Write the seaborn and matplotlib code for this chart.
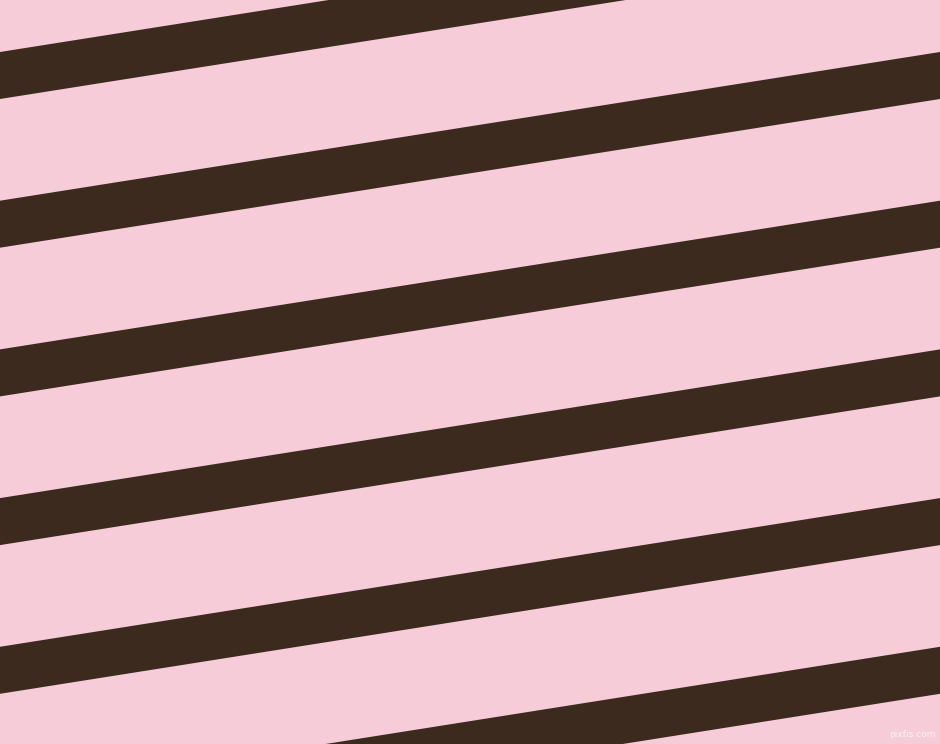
import matplotlib
matplotlib.use("Agg")
import matplotlib.pyplot as plt
import seaborn as sns
import numpy as np

# stripe top edges where they meet the left border (px from top)
stripe_tops = [-96.7, 52.0, 200.7, 349.4, 498.1, 646.8, 795.5]
stripe_thickness = 47.0
drop_across = 148.7  # how far a stripe rises from left to right edge

width, height = 940, 744
bg_color = "#F5CCD8"
stripe_color = "#3C2A1F"

sns.set_theme(style="white", rc={"axes.facecolor": bg_color, "figure.facecolor": bg_color})

fig = plt.figure(figsize=(9.4, 7.44), dpi=100)
ax = fig.add_axes([0, 0, 1, 1])

xs = np.array([0, width])
slope = drop_across / width
for top in stripe_tops:
    upper = top - slope * xs
    ax.fill_between(xs, upper, upper + stripe_thickness, color=stripe_color, linewidth=0)

ax.set_xlim(0, width)
ax.set_ylim(height, 0)
ax.axis("off")

ax.text(935, 739, "pixfis.com", ha="right", va="bottom", fontsize=6.5,
        color="#ffffff", alpha=0.75, family="DejaVu Sans")

fig.savefig("out.png", dpi=100, facecolor=bg_color)
